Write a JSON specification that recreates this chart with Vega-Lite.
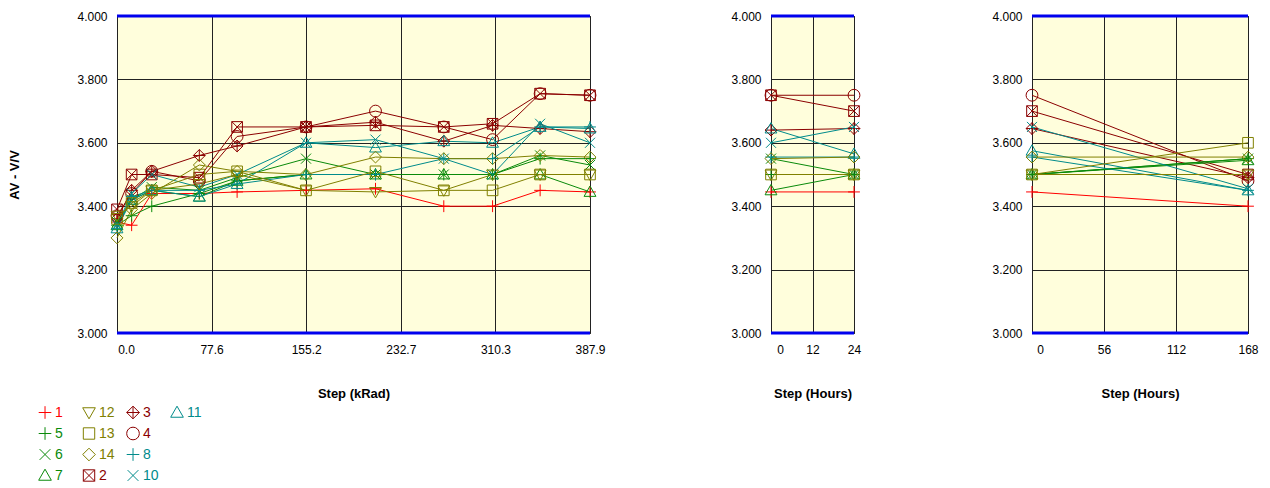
{
  "$schema": "https://vega.github.io/schema/vega-lite/v6.json",
  "background": "white",
  "padding": {"left": 8, "top": 9, "right": 5, "bottom": 5},
  "datasets": {
    "left": [
      {"s":"1","x":0,"v":3.35},{"s":"1","x":12,"v":3.34},{"s":"1","x":28.5,"v":3.44},{"s":"1","x":67.5,"v":3.44},{"s":"1","x":98.5,"v":3.445},{"s":"1","x":155,"v":3.45},{"s":"1","x":212,"v":3.455},{"s":"1","x":268,"v":3.40},{"s":"1","x":308,"v":3.40},{"s":"1","x":347,"v":3.45},{"s":"1","x":387.9,"v":3.445},
      {"s":"2","x":0,"v":3.39},{"s":"2","x":12,"v":3.50},{"s":"2","x":28.5,"v":3.50},{"s":"2","x":67.5,"v":3.49},{"s":"2","x":98.5,"v":3.65},{"s":"2","x":155,"v":3.65},{"s":"2","x":212,"v":3.655},{"s":"2","x":268,"v":3.65},{"s":"2","x":308,"v":3.66},{"s":"2","x":347,"v":3.755},{"s":"2","x":387.9,"v":3.75},
      {"s":"3","x":0,"v":3.36},{"s":"3","x":12,"v":3.45},{"s":"3","x":28.5,"v":3.51},{"s":"3","x":67.5,"v":3.56},{"s":"3","x":98.5,"v":3.59},{"s":"3","x":155,"v":3.65},{"s":"3","x":212,"v":3.665},{"s":"3","x":268,"v":3.605},{"s":"3","x":308,"v":3.655},{"s":"3","x":347,"v":3.645},{"s":"3","x":387.9,"v":3.635},
      {"s":"4","x":0,"v":3.37},{"s":"4","x":12,"v":3.44},{"s":"4","x":28.5,"v":3.51},{"s":"4","x":67.5,"v":3.48},{"s":"4","x":98.5,"v":3.62},{"s":"4","x":155,"v":3.65},{"s":"4","x":212,"v":3.70},{"s":"4","x":268,"v":3.65},{"s":"4","x":308,"v":3.61},{"s":"4","x":347,"v":3.755},{"s":"4","x":387.9,"v":3.75},
      {"s":"5","x":0,"v":3.34},{"s":"5","x":12,"v":3.37},{"s":"5","x":28.5,"v":3.40},{"s":"5","x":67.5,"v":3.44},{"s":"5","x":98.5,"v":3.48},{"s":"5","x":155,"v":3.50},{"s":"5","x":212,"v":3.50},{"s":"5","x":268,"v":3.50},{"s":"5","x":308,"v":3.50},{"s":"5","x":347,"v":3.55},{"s":"5","x":387.9,"v":3.55},
      {"s":"6","x":0,"v":3.35},{"s":"6","x":12,"v":3.42},{"s":"6","x":28.5,"v":3.46},{"s":"6","x":67.5,"v":3.45},{"s":"6","x":98.5,"v":3.49},{"s":"6","x":155,"v":3.55},{"s":"6","x":212,"v":3.50},{"s":"6","x":268,"v":3.50},{"s":"6","x":308,"v":3.50},{"s":"6","x":347,"v":3.56},{"s":"6","x":387.9,"v":3.53},
      {"s":"7","x":0,"v":3.34},{"s":"7","x":12,"v":3.42},{"s":"7","x":28.5,"v":3.45},{"s":"7","x":67.5,"v":3.43},{"s":"7","x":98.5,"v":3.48},{"s":"7","x":155,"v":3.50},{"s":"7","x":212,"v":3.50},{"s":"7","x":268,"v":3.50},{"s":"7","x":308,"v":3.50},{"s":"7","x":347,"v":3.50},{"s":"7","x":387.9,"v":3.445},
      {"s":"8","x":0,"v":3.33},{"s":"8","x":12,"v":3.43},{"s":"8","x":28.5,"v":3.45},{"s":"8","x":67.5,"v":3.45},{"s":"8","x":98.5,"v":3.47},{"s":"8","x":155,"v":3.50},{"s":"8","x":212,"v":3.50},{"s":"8","x":268,"v":3.55},{"s":"8","x":308,"v":3.55},{"s":"8","x":347,"v":3.65},{"s":"8","x":387.9,"v":3.65},
      {"s":"10","x":0,"v":3.34},{"s":"10","x":12,"v":3.44},{"s":"10","x":28.5,"v":3.50},{"s":"10","x":67.5,"v":3.46},{"s":"10","x":98.5,"v":3.50},{"s":"10","x":155,"v":3.60},{"s":"10","x":212,"v":3.61},{"s":"10","x":268,"v":3.55},{"s":"10","x":308,"v":3.50},{"s":"10","x":347,"v":3.66},{"s":"10","x":387.9,"v":3.60},
      {"s":"11","x":0,"v":3.33},{"s":"11","x":12,"v":3.42},{"s":"11","x":28.5,"v":3.45},{"s":"11","x":67.5,"v":3.43},{"s":"11","x":98.5,"v":3.47},{"s":"11","x":155,"v":3.60},{"s":"11","x":212,"v":3.585},{"s":"11","x":268,"v":3.605},{"s":"11","x":308,"v":3.60},{"s":"11","x":347,"v":3.65},{"s":"11","x":387.9,"v":3.645},
      {"s":"12","x":0,"v":3.37},{"s":"12","x":12,"v":3.40},{"s":"12","x":28.5,"v":3.45},{"s":"12","x":67.5,"v":3.47},{"s":"12","x":98.5,"v":3.50},{"s":"12","x":155,"v":3.45},{"s":"12","x":212,"v":3.445},{"s":"12","x":268,"v":3.45},{"s":"12","x":308,"v":3.50},{"s":"12","x":347,"v":3.50},{"s":"12","x":387.9,"v":3.50},
      {"s":"13","x":0,"v":3.36},{"s":"13","x":12,"v":3.41},{"s":"13","x":28.5,"v":3.45},{"s":"13","x":67.5,"v":3.50},{"s":"13","x":98.5,"v":3.51},{"s":"13","x":155,"v":3.45},{"s":"13","x":212,"v":3.51},{"s":"13","x":268,"v":3.45},{"s":"13","x":308,"v":3.45},{"s":"13","x":347,"v":3.50},{"s":"13","x":387.9,"v":3.50},
      {"s":"14","x":0,"v":3.30},{"s":"14","x":12,"v":3.39},{"s":"14","x":28.5,"v":3.44},{"s":"14","x":67.5,"v":3.53},{"s":"14","x":98.5,"v":3.51},{"s":"14","x":155,"v":3.50},{"s":"14","x":212,"v":3.555},{"s":"14","x":268,"v":3.55},{"s":"14","x":308,"v":3.55},{"s":"14","x":347,"v":3.56},{"s":"14","x":387.9,"v":3.555}
    ],
    "mid": [
      {"s":"1","x":0,"v":3.445},{"s":"1","x":24,"v":3.445},
      {"s":"2","x":0,"v":3.75},{"s":"2","x":24,"v":3.70},
      {"s":"3","x":0,"v":3.64},{"s":"3","x":24,"v":3.645},
      {"s":"4","x":0,"v":3.75},{"s":"4","x":24,"v":3.75},
      {"s":"5","x":0,"v":3.50},{"s":"5","x":24,"v":3.50},
      {"s":"6","x":0,"v":3.55},{"s":"6","x":24,"v":3.50},
      {"s":"7","x":0,"v":3.45},{"s":"7","x":24,"v":3.50},
      {"s":"8","x":0,"v":3.555},{"s":"8","x":24,"v":3.555},
      {"s":"10","x":0,"v":3.60},{"s":"10","x":24,"v":3.65},
      {"s":"11","x":0,"v":3.645},{"s":"11","x":24,"v":3.565},
      {"s":"12","x":0,"v":3.50},{"s":"12","x":24,"v":3.50},
      {"s":"13","x":0,"v":3.50},{"s":"13","x":24,"v":3.50},
      {"s":"14","x":0,"v":3.55},{"s":"14","x":24,"v":3.555}
    ],
    "right": [
      {"s":"1","x":0,"v":3.445},{"s":"1","x":168,"v":3.40},
      {"s":"2","x":0,"v":3.70},{"s":"2","x":168,"v":3.50},
      {"s":"3","x":0,"v":3.645},{"s":"3","x":168,"v":3.49},
      {"s":"4","x":0,"v":3.75},{"s":"4","x":168,"v":3.48},
      {"s":"5","x":0,"v":3.50},{"s":"5","x":168,"v":3.55},
      {"s":"6","x":0,"v":3.50},{"s":"6","x":168,"v":3.55},
      {"s":"7","x":0,"v":3.50},{"s":"7","x":168,"v":3.545},
      {"s":"8","x":0,"v":3.555},{"s":"8","x":168,"v":3.45},
      {"s":"10","x":0,"v":3.65},{"s":"10","x":168,"v":3.455},
      {"s":"11","x":0,"v":3.575},{"s":"11","x":168,"v":3.45},
      {"s":"12","x":0,"v":3.50},{"s":"12","x":168,"v":3.50},
      {"s":"13","x":0,"v":3.50},{"s":"13","x":168,"v":3.60},
      {"s":"14","x":0,"v":3.555},{"s":"14","x":168,"v":3.555}
    ],
    "limits": [{"v": 3}, {"v": 4}],
    "series": [{"s":"1"},{"s":"5"},{"s":"6"},{"s":"7"},{"s":"12"},{"s":"13"},{"s":"14"},{"s":"2"},{"s":"3"},{"s":"4"},{"s":"8"},{"s":"10"},{"s":"11"}]
  },
  "vconcat": [
    {
      "spacing": 124,
      "hconcat": [
        {
          "width": 473, "height": 317,
          "layer": [
            {
              "data": {"name": "left"},
              "mark": {"type": "line", "strokeWidth": 1},
              "encoding": {
                "x": {"field": "x", "type": "quantitative", "title": "Step (kRad)", "scale": {"domain": [0, 387.9], "nice": false, "zero": false},
                  "axis": {"values": [0, 77.58, 155.16, 232.74, 310.32, 387.9], "format": ".1f", "labelFlush": false, "labelOffset": {"condition": {"test": "datum.value == 0", "value": 9}, "value": 0}}},
                "y": {"field": "v", "type": "quantitative", "title": "AV - V/V", "scale": {"domain": [3, 4], "nice": false, "zero": false},
                  "axis": {"values": [3, 3.2, 3.4, 3.6, 3.8, 4], "format": ".3f", "titlePadding": 55}},
                "color": {"field": "s", "type": "nominal", "legend": null,
                  "scale": {"domain": ["1","2","3","4","5","6","7","8","10","11","12","13","14"],
                            "range": ["#FF0000","#8B0000","#8B0000","#8B0000","#0A8A0A","#0A8A0A","#0A8A0A","#008B8B","#008B8B","#008B8B","#808000","#808000","#808000"]}}
              }
            },
            {
              "data": {"name": "left"},
              "mark": {"type": "point", "filled": false, "size": 140, "strokeWidth": 1, "opacity": 1},
              "encoding": {
                "x": {"field": "x", "type": "quantitative", "title": "Step (kRad)"},
                "y": {"field": "v", "type": "quantitative", "title": "AV - V/V"},
                "color": {"field": "s", "type": "nominal", "legend": null},
                "shape": {"field": "s", "type": "nominal", "legend": null,
                  "scale": {"domain": ["1","2","3","4","5","6","7","8","10","11","12","13","14"],
                            "range": ["M-1,0L1,0M0,-1L0,1",
                                      "M-0.9,-0.9L0.9,-0.9L0.9,0.9L-0.9,0.9ZM-0.9,-0.9L0.9,0.9M-0.9,0.9L0.9,-0.9",
                                      "M0,-1L1,0L0,1L-1,0ZM-1,0L1,0M0,-1L0,1",
                                      "circle",
                                      "M-1,0L1,0M0,-1L0,1",
                                      "M-0.85,-0.85L0.85,0.85M-0.85,0.85L0.85,-0.85",
                                      "M0,-1L1,0.75L-1,0.75Z",
                                      "M-1,0L1,0M0,-1L0,1",
                                      "M-0.85,-0.85L0.85,0.85M-0.85,0.85L0.85,-0.85",
                                      "M0,-1L1,0.75L-1,0.75Z",
                                      "M-1,-0.75L1,-0.75L0,1Z",
                                      "M-0.9,-0.9L0.9,-0.9L0.9,0.9L-0.9,0.9Z",
                                      "M0,-1L1,0L0,1L-1,0Z"]}}
              }
            },
            {
              "data": {"name": "limits"},
              "mark": {"type": "rule", "color": "#0000EE", "strokeWidth": 3},
              "encoding": {"y": {"field": "v", "type": "quantitative", "title": "AV - V/V"}}
            }
          ]
        },
        {
          "spacing": 128,
          "hconcat": [
            {
              "width": 83, "height": 317,
              "layer": [
                {
                  "data": {"name": "mid"},
                  "mark": {"type": "line", "strokeWidth": 1},
                  "encoding": {
                    "x": {"field": "x", "type": "quantitative", "title": "Step (Hours)", "scale": {"domain": [0, 24], "nice": false, "zero": false},
                      "axis": {"values": [0, 12, 24], "format": "d", "labelFlush": false, "labelOffset": {"condition": {"test": "datum.value == 0", "value": 9}, "value": 0}}},
                    "y": {"field": "v", "type": "quantitative", "title": null, "scale": {"domain": [3, 4], "nice": false, "zero": false},
                      "axis": {"values": [3, 3.2, 3.4, 3.6, 3.8, 4], "format": ".3f"}},
                    "color": {"field": "s", "type": "nominal", "legend": null}
                  }
                },
                {
                  "data": {"name": "mid"},
                  "mark": {"type": "point", "filled": false, "size": 140, "strokeWidth": 1, "opacity": 1},
                  "encoding": {
                    "x": {"field": "x", "type": "quantitative", "title": "Step (Hours)"},
                    "y": {"field": "v", "type": "quantitative", "title": null},
                    "color": {"field": "s", "type": "nominal", "legend": null},
                    "shape": {"field": "s", "type": "nominal", "legend": null}
                  }
                },
                {
                  "data": {"name": "limits"},
                  "mark": {"type": "rule", "color": "#0000EE", "strokeWidth": 3},
                  "encoding": {"y": {"field": "v", "type": "quantitative", "title": null}}
                }
              ]
            },
            {
              "width": 216, "height": 317,
              "layer": [
                {
                  "data": {"name": "right"},
                  "mark": {"type": "line", "strokeWidth": 1},
                  "encoding": {
                    "x": {"field": "x", "type": "quantitative", "title": "Step (Hours)", "scale": {"domain": [0, 168], "nice": false, "zero": false},
                      "axis": {"values": [0, 56, 112, 168], "format": "d", "labelFlush": false, "labelOffset": {"condition": {"test": "datum.value == 0", "value": 8}, "value": 0}}},
                    "y": {"field": "v", "type": "quantitative", "title": null, "scale": {"domain": [3, 4], "nice": false, "zero": false},
                      "axis": {"values": [3, 3.2, 3.4, 3.6, 3.8, 4], "format": ".3f"}},
                    "color": {"field": "s", "type": "nominal", "legend": null}
                  }
                },
                {
                  "data": {"name": "right"},
                  "mark": {"type": "point", "filled": false, "size": 140, "strokeWidth": 1, "opacity": 1},
                  "encoding": {
                    "x": {"field": "x", "type": "quantitative", "title": "Step (Hours)"},
                    "y": {"field": "v", "type": "quantitative", "title": null},
                    "color": {"field": "s", "type": "nominal", "legend": null},
                    "shape": {"field": "s", "type": "nominal", "legend": null}
                  }
                },
                {
                  "data": {"name": "limits"},
                  "mark": {"type": "rule", "color": "#0000EE", "strokeWidth": 3},
                  "encoding": {"y": {"field": "v", "type": "quantitative", "title": null}}
                }
              ]
            }
          ]
        }
      ]
    },
    {
      "width": 176, "height": 84,
      "view": {"stroke": null, "fill": null},
      "data": {"name": "series"},
      "transform": [
        {"window": [{"op": "row_number", "as": "rn"}]},
        {"calculate": "floor((datum.rn - 1) / 4)", "as": "lc"},
        {"calculate": "(datum.rn - 1) % 4", "as": "lr"}
      ],
      "encoding": {
        "x": {"field": "lc", "type": "quantitative", "scale": {"domain": [1.636, 5.636], "nice": false, "zero": false}, "axis": null},
        "y": {"field": "lr", "type": "quantitative", "scale": {"domain": [-0.5, 3.5], "nice": false, "zero": false, "reverse": true}, "axis": null},
        "color": {"field": "s", "type": "nominal", "legend": null}
      },
      "layer": [
        {"mark": {"type": "point", "filled": false, "size": 160, "strokeWidth": 1, "opacity": 1},
         "encoding": {"shape": {"field": "s", "type": "nominal", "legend": null}}},
        {"mark": {"type": "text", "align": "left", "baseline": "middle", "dx": 10, "fontSize": 14, "font": "Liberation Sans"},
         "encoding": {"text": {"field": "s", "type": "nominal"}}}
      ]
    }
  ],
  "spacing": 1,
  "resolve": {"scale": {"color": "shared", "shape": "shared"}},
  "config": {
    "view": {"fill": "#FFFEDC", "stroke": "#333333", "strokeWidth": 1},
    "axis": {
      "labelFont": "Liberation Sans", "titleFont": "Liberation Sans",
      "labelFontSize": 12, "titleFontSize": 13, "titleFontWeight": "bold",
      "labelColor": "#000000", "titleColor": "#000000",
      "grid": true, "gridColor": "#222222", "gridOpacity": 1, "gridWidth": 1,
      "domain": false, "ticks": false, "labelPadding": 10
    },
    "axisX": {"labelPadding": 11, "titlePadding": 32}
  }
}
